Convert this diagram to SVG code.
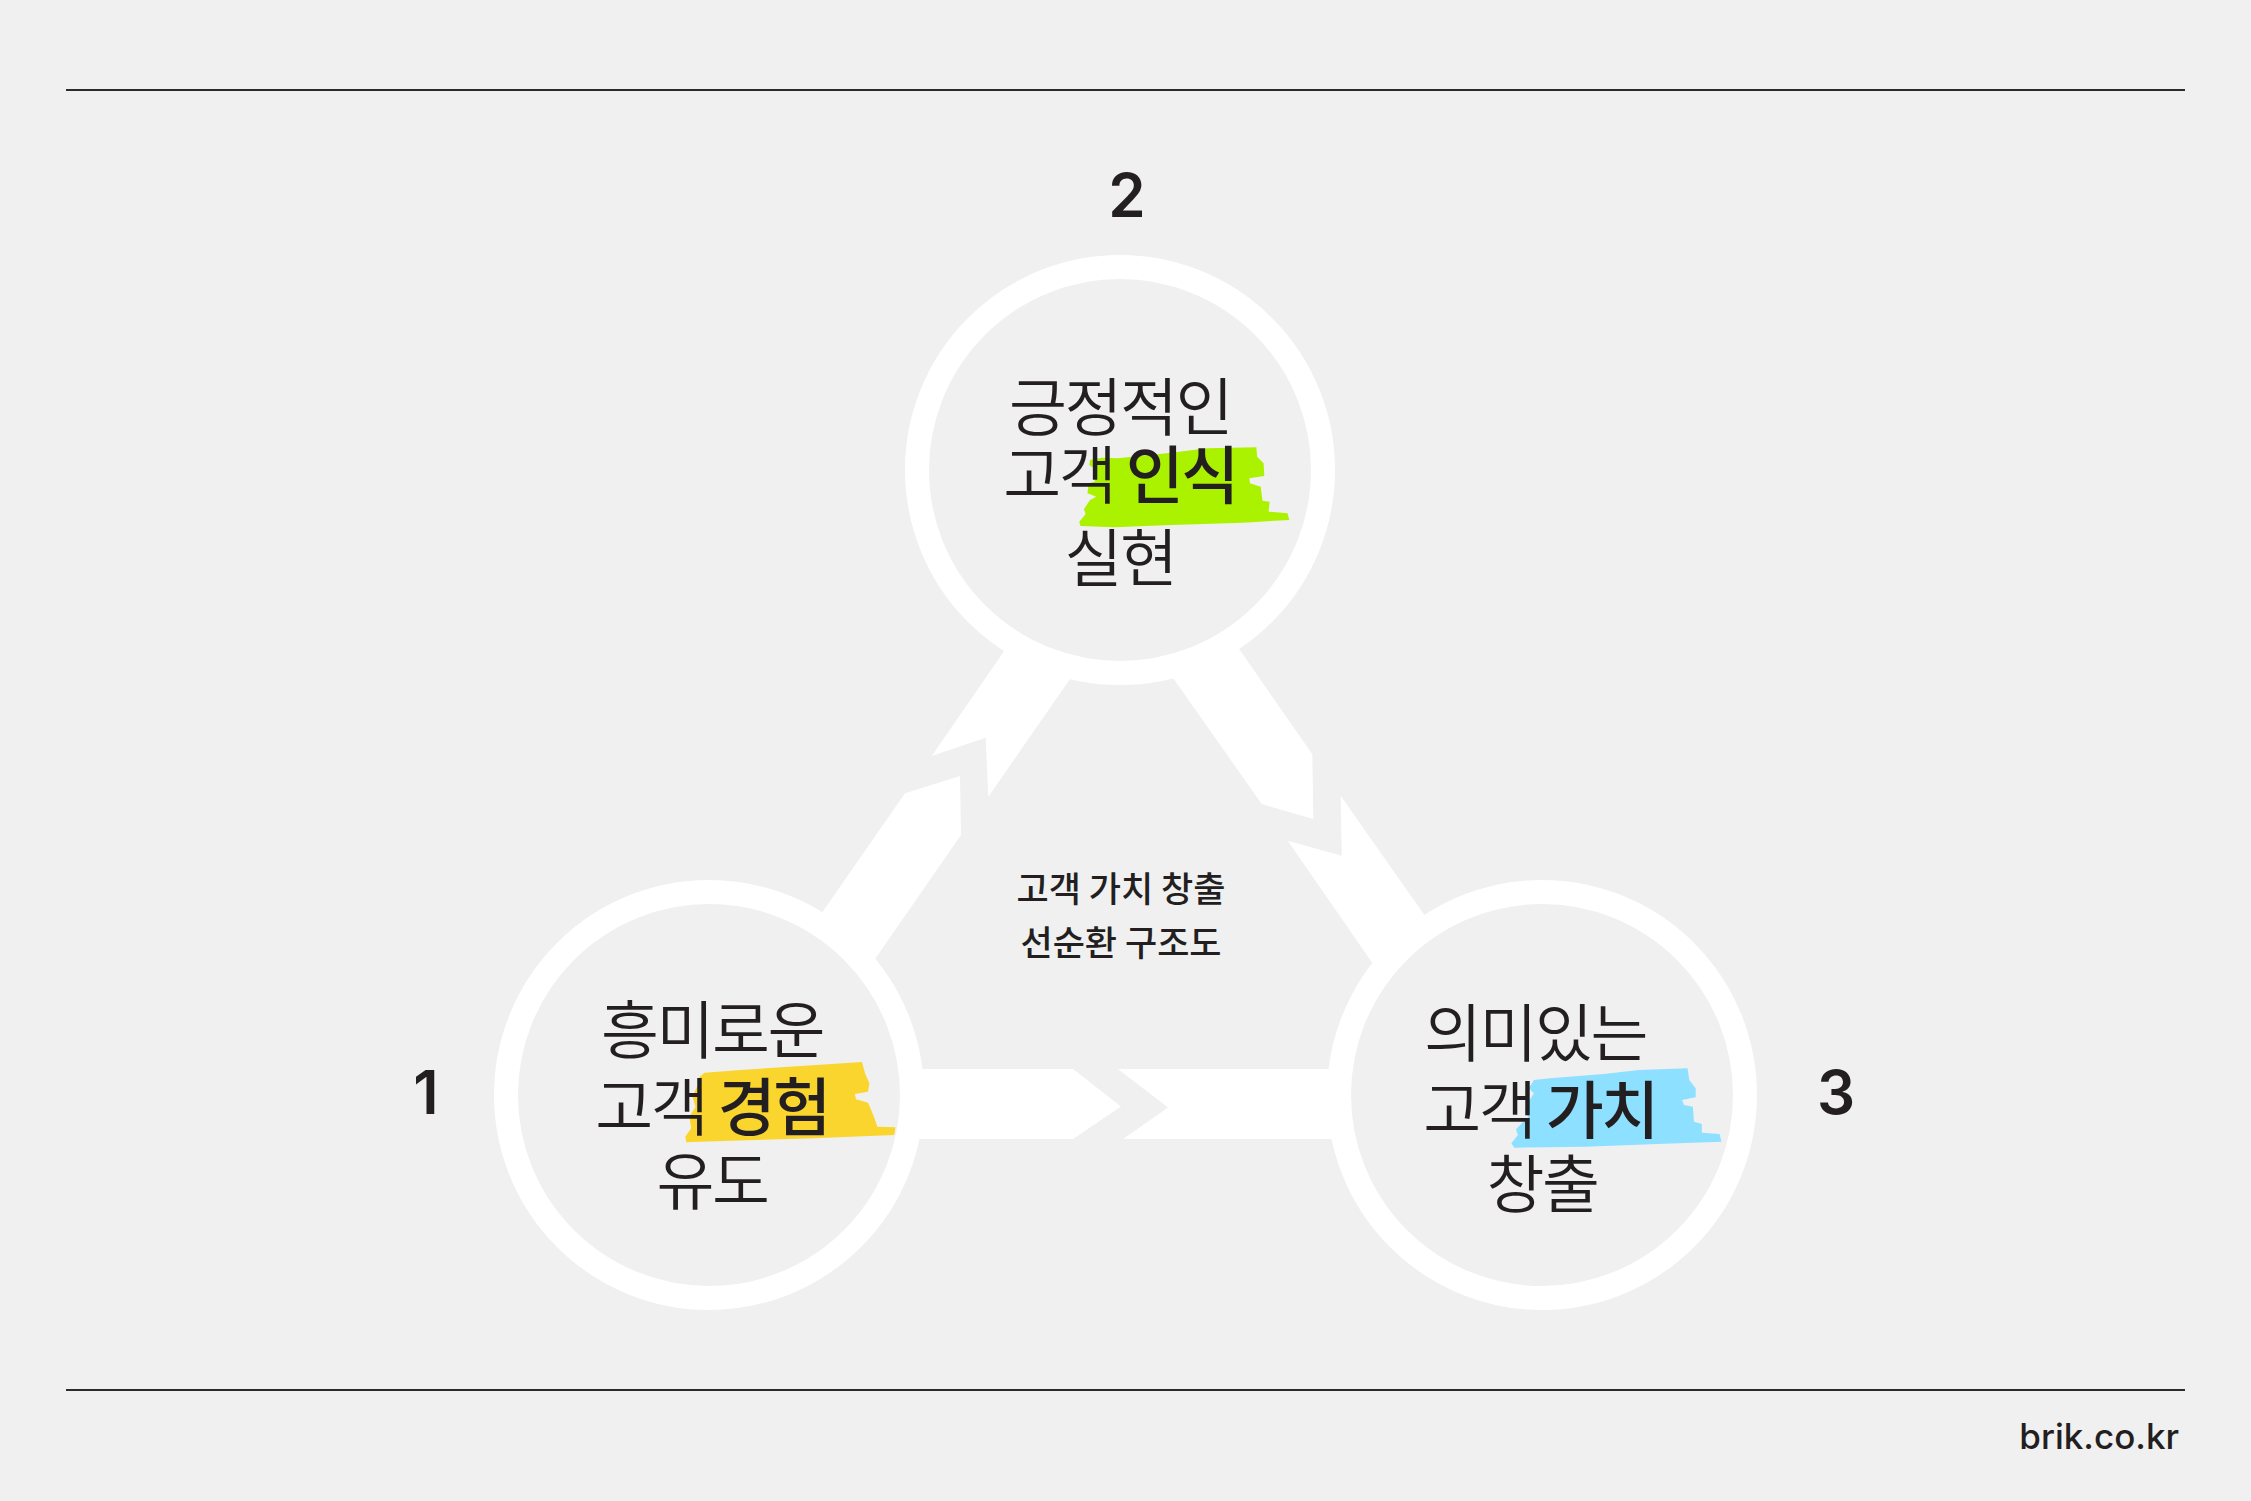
<svg xmlns="http://www.w3.org/2000/svg" width="2251" height="1501" viewBox="0 0 2251 1501">
  <style>
    .bg { fill: #f0f0f0; }
    .rule { stroke: #2b2b2b; stroke-width: 2; fill: none; }
    .band { fill: #ffffff; }
    .ring { fill: #f0f0f0; stroke: #ffffff; stroke-width: 24; }
    .lbl { font-family: "Noto Sans CJK KR", "Noto Sans", sans-serif; font-size: 63px; font-weight: 350; fill: #231f20; text-anchor: middle; letter-spacing: -2.5px; }
    .b { font-weight: 500; }
    .mid { font-family: "Noto Sans CJK KR", "Noto Sans", sans-serif; font-size: 35px; font-weight: 500; fill: #231f20; text-anchor: middle; }
    .num { font-family: Inter, "Liberation Sans", sans-serif; font-size: 60px; font-weight: 600; fill: #231f20; text-anchor: middle; }
    .site { font-family: Inter, "Liberation Sans", sans-serif; font-size: 35px; font-weight: 500; fill: #231f20; text-anchor: end; }
  </style>
  <rect class="bg" x="0" y="0" width="2251" height="1501"/>
  <line class="rule" x1="66" y1="90" x2="2185" y2="90"/>
  <line class="rule" x1="66" y1="1390" x2="2185" y2="1390"/>

  <g id="connectors">
    <polygon class="band" points="800,1069 1073,1069 1121,1106.5 1073,1139 800,1139"/>
    <polygon class="band" points="1118,1069 1460,1069 1460,1139 1123,1139 1168,1107.5"/>
    <polygon class="band" points="765.6,993.8 905,793.3 960,776 961,835 818.9,1040.1"/>
    <polygon class="band" points="1061.1,568.6 931.7,756 985.7,737.7 988.3,796.7 1127.1,596.9"/>
    <polygon class="band" points="1115.8,596.5 1261.7,804 1313.3,819 1312.3,754.3 1181.8,566.5"/>
    <polygon class="band" points="1287.7,840.7 1429.2,1045.1 1481.8,996.8 1340.7,795.7 1341.7,855.7"/>
  </g>

  <g id="node-2">
    <circle class="ring" cx="1120" cy="470" r="203"/>
    <path fill="#aaf200" d="M1090,460 L1101.8,457.7 L1117.9,458.3 L1171.4,452.7 L1207,448.3 L1256.4,447.3 L1257.1,456.7 L1263.6,463.3 L1264.3,476 L1249.3,478.3 L1250,483.3 L1260.7,486.7 L1262.5,500.7 L1269.6,501.7 L1268.6,511.7 L1287.5,513.3 L1289.3,520 L1242.9,522.7 L1171.4,525 L1114.3,527.3 L1080.4,526 L1079.3,521.7 L1085.7,514 L1083.9,509.3 L1090,500 L1096.4,496.7 L1087.5,493.3 L1088.6,483.3 L1094.6,481.7 L1096.4,470 L1089.3,465 Z"/>
    <text class="lbl" x="1120" y="430">긍정적인</text>
    <text class="lbl" x="1120" y="498">고객 <tspan class="b">인식</tspan></text>
    <text class="lbl" x="1120" y="581">실현</text>
  </g>

  <g id="node-1">
    <circle class="ring" cx="709" cy="1095" r="203"/>
    <path fill="#fad52e" d="M704.5,1072.7 L741,1070 L789.4,1066.7 L862,1062 L865,1073.3 L869.4,1083.3 L868,1091.7 L854.8,1094 L856,1099.3 L868,1102.7 L874,1116.7 L877.3,1126.7 L895.5,1127.3 L894.2,1135 L813.6,1138.3 L722.7,1141 L686.4,1142.3 L685.2,1136.7 L691.2,1128.3 L689.4,1116.7 L695.5,1106.7 L692.4,1096.7 L698.5,1083.3 L699.7,1076.7 Z"/>
    <text class="lbl" x="712" y="1053">흥미로운</text>
    <text class="lbl" x="712" y="1130">고객 <tspan class="b">경험</tspan></text>
    <text class="lbl" x="712" y="1204">유도</text>
  </g>

  <g id="node-3">
    <circle class="ring" cx="1542" cy="1095" r="203"/>
    <path fill="#8de0ff" d="M1533.9,1080 L1550,1078.3 L1603.6,1074 L1639.3,1070 L1687.5,1068.3 L1689.3,1080 L1695.7,1088.3 L1695.7,1097.3 L1682.1,1100 L1683.9,1105 L1692.9,1106.7 L1693.9,1121.7 L1701.8,1124 L1701.8,1132.7 L1719.6,1134 L1721.4,1141.7 L1657.1,1144 L1585.7,1146.7 L1514.3,1147.7 L1511.4,1143.3 L1517.9,1135 L1516,1129.3 L1523.2,1121.7 L1528.6,1118.3 L1525,1110 L1528.6,1101.7 L1533.9,1093.3 L1528.6,1088.3 L1532.1,1083.3 Z"/>
    <text class="lbl" x="1535" y="1056">의미있는</text>
    <text class="lbl" x="1540" y="1133">고객 <tspan class="b">가치</tspan></text>
    <text class="lbl" x="1542" y="1207">창출</text>
  </g>

  <g id="center-label">
    <text class="mid" x="1121" y="902">고객 가치 창출</text>
    <text class="mid" x="1121" y="956">선순환 구조도</text>
  </g>

  <g id="numbers">
    <text class="num" x="1127" y="217">2</text>
    <text class="num" x="426" y="1114">1</text>
    <text class="num" x="1836" y="1114">3</text>
  </g>

  <text class="site" x="2179" y="1449">brik.co.kr</text>
</svg>
